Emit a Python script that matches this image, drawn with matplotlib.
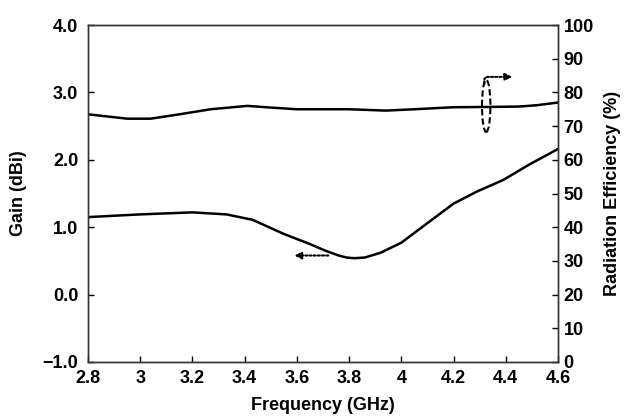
import matplotlib
matplotlib.use("Agg")
import matplotlib.pyplot as plt
from matplotlib.patches import Ellipse

plt.rcParams['font.family'] = ['Liberation Sans', 'DejaVu Sans']
plt.rcParams['font.weight'] = 'bold'

# Gain (dBi) vs frequency
gain_freq = [2.80, 3.00, 3.20, 3.33, 3.43, 3.55, 3.65, 3.71, 3.76, 3.79, 3.82, 3.86, 3.92, 4.00, 4.11, 4.20, 4.29, 4.39, 4.49, 4.60]
gain_vals = [1.15, 1.19, 1.22, 1.19, 1.11, 0.90, 0.75, 0.65, 0.58, 0.55, 0.54, 0.55, 0.62, 0.77, 1.09, 1.35, 1.53, 1.70, 1.93, 2.16]

# Radiation efficiency (%) vs frequency
eff_freq = [2.80, 2.95, 3.04, 3.15, 3.27, 3.41, 3.50, 3.60, 3.70, 3.80, 3.94, 4.05, 4.20, 4.35, 4.45, 4.52, 4.60]
eff_vals = [73.5, 72.2, 72.2, 73.5, 75.0, 76.0, 75.5, 75.0, 75.0, 75.0, 74.6, 75.0, 75.6, 75.7, 75.8, 76.2, 77.0]

x_ticks = [2.8, 3.0, 3.2, 3.4, 3.6, 3.8, 4.0, 4.2, 4.4, 4.6]
x_labels = ['2.8', '3', '3.2', '3.4', '3.6', '3.8', '4', '4.2', '4.4', '4.6']
gain_ticks = [-1, 0, 1, 2, 3, 4]
gain_labels = ['\u22121.0', '0.0', '1.0', '2.0', '3.0', '4.0']
eff_ticks = list(range(0, 101, 10))

fig = plt.figure(figsize=(6.24, 4.16), dpi=100)
ax = fig.add_axes([88/624, 54/416, 470/624, 337/416])
ax2 = ax.twinx()

ax.plot(gain_freq, gain_vals, color='black', lw=1.8)
ax2.plot(eff_freq, eff_vals, color='black', lw=1.8)

ax.set_xlim(2.8, 4.6)
ax.set_ylim(-1, 4)
ax2.set_ylim(0, 100)
ax.set_xticks(x_ticks)
ax.set_xticklabels(x_labels)
ax.set_yticks(gain_ticks)
ax.set_yticklabels(gain_labels)
ax2.set_yticks(eff_ticks)

for a in (ax, ax2):
    a.tick_params(direction='in', length=4, width=1, labelsize=13)
    for s in a.spines.values():
        s.set_linewidth(1.0)
        s.set_color('#333333')
ax.tick_params(axis='x', pad=6)
ax.tick_params(axis='y', pad=7)
ax2.tick_params(axis='y', pad=4)

ax.set_xlabel('Frequency (GHz)', fontsize=13, fontweight='bold')
ax.set_ylabel('Gain (dBi)', fontsize=13, fontweight='bold')
ax2.set_ylabel('Radiation Efficiency (%)', fontsize=13, fontweight='bold')
ax.xaxis.set_label_coords(0.5, -0.105)
ax.yaxis.set_label_coords(-0.13, 0.5)
ax2.yaxis.set_label_coords(1.097, 0.5)

# left-pointing arrow for gain curve
ax.annotate('', xy=(3.59, 0.58), xytext=(3.72, 0.58),
            arrowprops=dict(arrowstyle='-|>', color='black', lw=1.5, linestyle=(0, (1, 1)),
                            mutation_scale=10, shrinkA=0, shrinkB=0))

# ellipse + right-pointing arrow for efficiency curve
ax2.add_patch(Ellipse((4.325, 76.0), 0.032, 15.5, fill=False, ec='black', lw=1.5, ls=(0, (3, 1.5))))
ax2.annotate('', xy=(4.425, 84.6), xytext=(4.318, 82.5),
             arrowprops=dict(arrowstyle='-|>', color='black', lw=1.5, linestyle=(0, (1, 1)),
                             mutation_scale=10, shrinkA=0, shrinkB=0,
                             connectionstyle='angle,angleA=90,angleB=0,rad=3'))

fig.savefig('out.png', dpi=100)
